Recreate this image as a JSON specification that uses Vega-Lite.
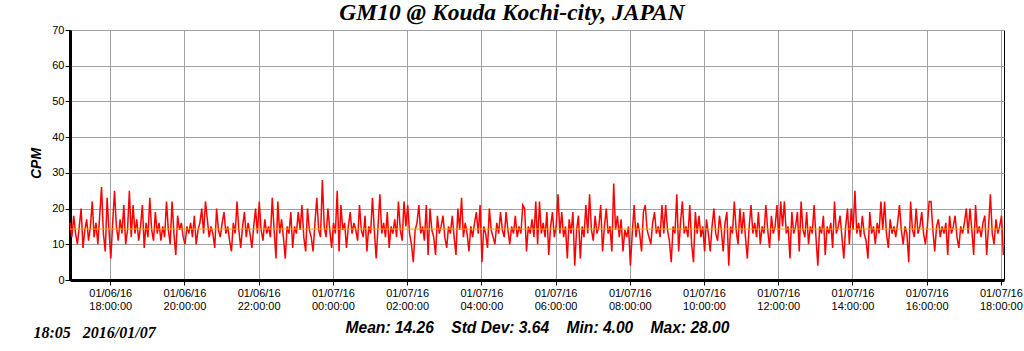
{
"$schema": "https://vega.github.io/schema/vega-lite/v6.json",
"width": 934,
"height": 250,
"autosize": {"type": "none"},
"padding": {"left": 70, "top": 30, "right": 20, "bottom": 71},
"background": "white",
"title": {"text": "GM10 @ Kouda Kochi-city, JAPAN", "font": "Liberation Serif", "fontSize": 23.5, "fontWeight": "bold", "fontStyle": "italic", "color": "black", "anchor": "middle", "dx": -25, "dy": 26, "baseline": "alphabetic", "offset": 7},
"config": {
  "view": {"stroke": "black", "strokeWidth": 1},
  "axis": {"labelFont": "Liberation Sans", "labelFontSize": 11, "labelColor": "black", "gridColor": "#a0a0a0", "gridWidth": 1, "gridOpacity": 1, "domainColor": "black", "domainWidth": 3, "tickColor": "black", "tickSize": 5, "tickWidth": 1, "titleColor": "black"}
},
"layer": [
  {
    "data": {"values": [
{"m":0,"v":16},{"m":3,"v":12},{"m":6,"v":18},{"m":9,"v":13},{"m":12,"v":10},{"m":15,"v":15},{"m":18,"v":20},{"m":21,"v":9},{"m":24,"v":14},{"m":27,"v":17},
{"m":30,"v":11},{"m":33,"v":15},{"m":36,"v":22},{"m":39,"v":12},{"m":42,"v":16},{"m":45,"v":10},{"m":48,"v":18},{"m":51,"v":26},{"m":54,"v":13},{"m":57,"v":8},
{"m":60,"v":23},{"m":63,"v":14},{"m":66,"v":6},{"m":69,"v":16},{"m":72,"v":25},{"m":75,"v":15},{"m":78,"v":11},{"m":81,"v":17},{"m":84,"v":13},{"m":87,"v":21},
{"m":90,"v":10},{"m":93,"v":14},{"m":96,"v":25},{"m":99,"v":12},{"m":102,"v":21},{"m":105,"v":13},{"m":108,"v":17},{"m":111,"v":11},{"m":114,"v":15},{"m":117,"v":21},
{"m":120,"v":9},{"m":123,"v":16},{"m":126,"v":12},{"m":129,"v":23},{"m":132,"v":14},{"m":135,"v":11},{"m":138,"v":19},{"m":141,"v":13},{"m":144,"v":16},{"m":147,"v":11},
{"m":150,"v":15},{"m":153,"v":12},{"m":156,"v":22},{"m":159,"v":14},{"m":162,"v":10},{"m":165,"v":22},{"m":168,"v":13},{"m":171,"v":7},{"m":174,"v":18},{"m":177,"v":14},
{"m":180,"v":16},{"m":183,"v":12},{"m":186,"v":10},{"m":189,"v":15},{"m":192,"v":13},{"m":195,"v":16},{"m":198,"v":12},{"m":201,"v":18},{"m":204,"v":10},{"m":207,"v":14},
{"m":210,"v":16},{"m":213,"v":20},{"m":216,"v":13},{"m":219,"v":22},{"m":222,"v":17},{"m":225,"v":12},{"m":228,"v":15},{"m":231,"v":13},{"m":234,"v":9},{"m":237,"v":20},
{"m":240,"v":14},{"m":243,"v":12},{"m":246,"v":16},{"m":249,"v":19},{"m":252,"v":13},{"m":255,"v":15},{"m":258,"v":11},{"m":261,"v":8},{"m":264,"v":16},{"m":267,"v":13},
{"m":270,"v":22},{"m":273,"v":14},{"m":276,"v":9},{"m":279,"v":15},{"m":282,"v":19},{"m":285,"v":12},{"m":288,"v":16},{"m":291,"v":13},{"m":294,"v":9},{"m":297,"v":15},
{"m":300,"v":20},{"m":303,"v":13},{"m":306,"v":22},{"m":309,"v":14},{"m":312,"v":11},{"m":315,"v":17},{"m":318,"v":13},{"m":321,"v":15},{"m":324,"v":12},{"m":327,"v":23},
{"m":330,"v":14},{"m":333,"v":6},{"m":336,"v":22},{"m":339,"v":13},{"m":342,"v":17},{"m":345,"v":12},{"m":348,"v":6},{"m":351,"v":15},{"m":354,"v":13},{"m":357,"v":19},
{"m":360,"v":9},{"m":363,"v":15},{"m":366,"v":13},{"m":369,"v":19},{"m":372,"v":14},{"m":375,"v":21},{"m":378,"v":12},{"m":381,"v":8},{"m":384,"v":20},{"m":387,"v":14},
{"m":390,"v":12},{"m":393,"v":8},{"m":396,"v":16},{"m":399,"v":23},{"m":402,"v":14},{"m":405,"v":12},{"m":408,"v":28},{"m":411,"v":15},{"m":414,"v":12},{"m":417,"v":20},
{"m":420,"v":14},{"m":423,"v":9},{"m":426,"v":16},{"m":429,"v":13},{"m":432,"v":25},{"m":435,"v":8},{"m":438,"v":21},{"m":441,"v":14},{"m":444,"v":16},{"m":447,"v":9},
{"m":450,"v":15},{"m":453,"v":19},{"m":456,"v":13},{"m":459,"v":16},{"m":462,"v":14},{"m":465,"v":11},{"m":468,"v":21},{"m":471,"v":14},{"m":474,"v":12},{"m":477,"v":18},
{"m":480,"v":8},{"m":483,"v":15},{"m":486,"v":13},{"m":489,"v":23},{"m":492,"v":14},{"m":495,"v":6},{"m":498,"v":15},{"m":501,"v":24},{"m":504,"v":13},{"m":507,"v":16},
{"m":510,"v":12},{"m":513,"v":19},{"m":516,"v":9},{"m":519,"v":15},{"m":522,"v":13},{"m":525,"v":17},{"m":528,"v":12},{"m":531,"v":22},{"m":534,"v":14},{"m":537,"v":11},
{"m":540,"v":22},{"m":543,"v":15},{"m":546,"v":21},{"m":549,"v":13},{"m":552,"v":10},{"m":555,"v":5},{"m":558,"v":14},{"m":561,"v":16},{"m":564,"v":21},{"m":567,"v":13},
{"m":570,"v":15},{"m":573,"v":11},{"m":576,"v":21},{"m":579,"v":7},{"m":582,"v":20},{"m":585,"v":14},{"m":588,"v":12},{"m":591,"v":7},{"m":594,"v":18},{"m":597,"v":13},
{"m":600,"v":15},{"m":603,"v":18},{"m":606,"v":12},{"m":609,"v":9},{"m":612,"v":15},{"m":615,"v":13},{"m":618,"v":18},{"m":621,"v":12},{"m":624,"v":7},{"m":627,"v":20},
{"m":630,"v":14},{"m":633,"v":23},{"m":636,"v":12},{"m":639,"v":16},{"m":642,"v":13},{"m":645,"v":8},{"m":648,"v":15},{"m":651,"v":12},{"m":654,"v":16},{"m":657,"v":19},
{"m":660,"v":13},{"m":663,"v":21},{"m":666,"v":5},{"m":669,"v":15},{"m":672,"v":13},{"m":675,"v":9},{"m":678,"v":20},{"m":681,"v":14},{"m":684,"v":12},{"m":687,"v":10},
{"m":690,"v":16},{"m":693,"v":13},{"m":696,"v":19},{"m":699,"v":14},{"m":702,"v":12},{"m":705,"v":19},{"m":708,"v":14},{"m":711,"v":10},{"m":714,"v":15},{"m":717,"v":13},
{"m":720,"v":18},{"m":723,"v":12},{"m":726,"v":15},{"m":729,"v":13},{"m":732,"v":21},{"m":735,"v":20},{"m":738,"v":8},{"m":741,"v":15},{"m":744,"v":13},{"m":747,"v":17},
{"m":750,"v":12},{"m":753,"v":22},{"m":756,"v":10},{"m":759,"v":22},{"m":762,"v":13},{"m":765,"v":16},{"m":768,"v":12},{"m":771,"v":19},{"m":774,"v":7},{"m":777,"v":15},
{"m":780,"v":19},{"m":783,"v":12},{"m":786,"v":15},{"m":789,"v":24},{"m":792,"v":13},{"m":795,"v":19},{"m":798,"v":12},{"m":801,"v":15},{"m":804,"v":6},{"m":807,"v":17},
{"m":810,"v":13},{"m":813,"v":19},{"m":816,"v":4},{"m":819,"v":14},{"m":822,"v":18},{"m":825,"v":6},{"m":828,"v":15},{"m":831,"v":12},{"m":834,"v":21},{"m":837,"v":13},
{"m":840,"v":24},{"m":843,"v":14},{"m":846,"v":11},{"m":849,"v":18},{"m":852,"v":13},{"m":855,"v":15},{"m":858,"v":21},{"m":861,"v":8},{"m":864,"v":15},{"m":867,"v":20},
{"m":870,"v":13},{"m":873,"v":15},{"m":876,"v":8},{"m":879,"v":27},{"m":882,"v":14},{"m":885,"v":18},{"m":888,"v":12},{"m":891,"v":17},{"m":894,"v":8},{"m":897,"v":14},
{"m":900,"v":12},{"m":903,"v":15},{"m":906,"v":4},{"m":909,"v":13},{"m":912,"v":21},{"m":915,"v":12},{"m":918,"v":16},{"m":921,"v":13},{"m":924,"v":8},{"m":927,"v":19},
{"m":930,"v":21},{"m":933,"v":14},{"m":936,"v":12},{"m":939,"v":10},{"m":942,"v":16},{"m":945,"v":19},{"m":948,"v":13},{"m":951,"v":15},{"m":954,"v":12},{"m":957,"v":21},
{"m":960,"v":13},{"m":963,"v":21},{"m":966,"v":14},{"m":969,"v":11},{"m":972,"v":5},{"m":975,"v":15},{"m":978,"v":13},{"m":981,"v":24},{"m":984,"v":8},{"m":987,"v":16},
{"m":990,"v":22},{"m":993,"v":13},{"m":996,"v":15},{"m":999,"v":12},{"m":1002,"v":21},{"m":1005,"v":10},{"m":1008,"v":5},{"m":1011,"v":19},{"m":1014,"v":13},{"m":1017,"v":18},
{"m":1020,"v":12},{"m":1023,"v":15},{"m":1026,"v":8},{"m":1029,"v":17},{"m":1032,"v":13},{"m":1035,"v":8},{"m":1038,"v":15},{"m":1041,"v":20},{"m":1044,"v":13},{"m":1047,"v":11},
{"m":1050,"v":18},{"m":1053,"v":14},{"m":1056,"v":8},{"m":1059,"v":16},{"m":1062,"v":19},{"m":1065,"v":4},{"m":1068,"v":15},{"m":1071,"v":13},{"m":1074,"v":22},{"m":1077,"v":14},
{"m":1080,"v":10},{"m":1083,"v":20},{"m":1086,"v":13},{"m":1089,"v":19},{"m":1092,"v":12},{"m":1095,"v":6},{"m":1098,"v":15},{"m":1101,"v":21},{"m":1104,"v":13},{"m":1107,"v":16},
{"m":1110,"v":12},{"m":1113,"v":19},{"m":1116,"v":10},{"m":1119,"v":15},{"m":1122,"v":13},{"m":1125,"v":21},{"m":1128,"v":14},{"m":1131,"v":9},{"m":1134,"v":18},{"m":1137,"v":13},
{"m":1140,"v":15},{"m":1143,"v":21},{"m":1146,"v":11},{"m":1149,"v":22},{"m":1152,"v":15},{"m":1155,"v":22},{"m":1158,"v":13},{"m":1161,"v":15},{"m":1164,"v":6},{"m":1167,"v":19},
{"m":1170,"v":13},{"m":1173,"v":15},{"m":1176,"v":19},{"m":1179,"v":8},{"m":1182,"v":22},{"m":1185,"v":14},{"m":1188,"v":12},{"m":1191,"v":19},{"m":1194,"v":10},{"m":1197,"v":15},
{"m":1200,"v":13},{"m":1203,"v":21},{"m":1206,"v":12},{"m":1209,"v":4},{"m":1212,"v":15},{"m":1215,"v":13},{"m":1218,"v":18},{"m":1221,"v":7},{"m":1224,"v":15},{"m":1227,"v":13},
{"m":1230,"v":16},{"m":1233,"v":9},{"m":1236,"v":22},{"m":1239,"v":13},{"m":1242,"v":15},{"m":1245,"v":18},{"m":1248,"v":12},{"m":1251,"v":6},{"m":1254,"v":15},{"m":1257,"v":20},
{"m":1260,"v":10},{"m":1263,"v":20},{"m":1266,"v":14},{"m":1269,"v":25},{"m":1272,"v":13},{"m":1275,"v":16},{"m":1278,"v":12},{"m":1281,"v":18},{"m":1284,"v":13},{"m":1287,"v":11},
{"m":1290,"v":6},{"m":1293,"v":19},{"m":1296,"v":13},{"m":1299,"v":15},{"m":1302,"v":10},{"m":1305,"v":16},{"m":1308,"v":13},{"m":1311,"v":22},{"m":1314,"v":14},{"m":1317,"v":22},
{"m":1320,"v":13},{"m":1323,"v":9},{"m":1326,"v":17},{"m":1329,"v":13},{"m":1332,"v":15},{"m":1335,"v":12},{"m":1338,"v":16},{"m":1341,"v":21},{"m":1344,"v":14},{"m":1347,"v":10},
{"m":1350,"v":15},{"m":1353,"v":13},{"m":1356,"v":5},{"m":1359,"v":22},{"m":1362,"v":14},{"m":1365,"v":12},{"m":1368,"v":20},{"m":1371,"v":13},{"m":1374,"v":15},{"m":1377,"v":19},
{"m":1380,"v":13},{"m":1383,"v":10},{"m":1386,"v":15},{"m":1389,"v":22},{"m":1392,"v":22},{"m":1395,"v":14},{"m":1398,"v":8},{"m":1401,"v":15},{"m":1404,"v":17},{"m":1407,"v":12},
{"m":1410,"v":15},{"m":1413,"v":13},{"m":1416,"v":16},{"m":1419,"v":7},{"m":1422,"v":18},{"m":1425,"v":13},{"m":1428,"v":15},{"m":1431,"v":18},{"m":1434,"v":12},{"m":1437,"v":9},
{"m":1440,"v":15},{"m":1443,"v":13},{"m":1446,"v":16},{"m":1449,"v":20},{"m":1452,"v":13},{"m":1455,"v":20},{"m":1458,"v":14},{"m":1461,"v":7},{"m":1464,"v":21},{"m":1467,"v":13},
{"m":1470,"v":15},{"m":1473,"v":12},{"m":1476,"v":16},{"m":1479,"v":18},{"m":1482,"v":7},{"m":1485,"v":15},{"m":1488,"v":24},{"m":1491,"v":13},{"m":1494,"v":10},{"m":1497,"v":17},
{"m":1500,"v":13},{"m":1503,"v":15},{"m":1506,"v":18},{"m":1509,"v":7}
    ]},
    "mark": {"type": "line", "color": "#ff0000", "strokeWidth": 1.5},
    "encoding": {
      "x": {"field": "m", "type": "quantitative", "scale": {"domain": [0, 1510], "nice": false, "zero": false},
        "axis": {"values": [65,185,305,425,545,665,785,905,1025,1145,1265,1385,1505], "grid": true, "labelOverlap": false, "labelFlush": false, "labelBaseline": "top", "labelLineHeight": 13.5, "labelPadding": 2,
          "labelExpr": "[datum.value < 425 ? '01/06/16' : '01/07/16', format(((datum.value + 55) / 60 + 16) % 24, '02d') + ':00:00']",
          "title": "Mean: 14.26\u00a0\u00a0\u00a0\u00a0Std Dev: 3.64\u00a0\u00a0\u00a0\u00a0Min: 4.00\u00a0\u00a0\u00a0\u00a0Max: 28.00",
          "titleFont": "Liberation Sans", "titleFontSize": 15.6, "titleFontWeight": "bold", "titleFontStyle": "italic", "titleBaseline": "alphabetic", "titleY": 52}},
      "y": {"field": "v", "type": "quantitative", "scale": {"domain": [0, 70], "nice": false},
        "axis": {"values": [0,10,20,30,40,50,60,70], "grid": true, "labelPadding": 1, "title": "CPM", "titleFont": "Liberation Sans", "titleFontSize": 14, "titleFontWeight": "bold", "titleFontStyle": "italic", "titlePadding": 8, "titleY": 133}}
    }
  },
  {
    "data": {"values": [{"stat": "mean", "cpm": 14.26}]},
    "mark": {"type": "rule", "color": "#e0b000", "strokeWidth": 1},
    "encoding": {
      "y": {"field": "cpm", "type": "quantitative",
        "axis": {"orient": "left", "labels": false, "ticks": false, "domain": false, "grid": false,
          "title": "18:05\u00a0\u00a0\u00a02016/01/07", "titleFont": "Liberation Serif", "titleFontSize": 16, "titleFontWeight": "bold", "titleFontStyle": "italic",
          "titleAngle": 0, "titleAlign": "left", "titleBaseline": "alphabetic", "titleX": -37, "titleY": 307}}
    }
  }
],
"resolve": {"axis": {"y": "independent"}}
}
